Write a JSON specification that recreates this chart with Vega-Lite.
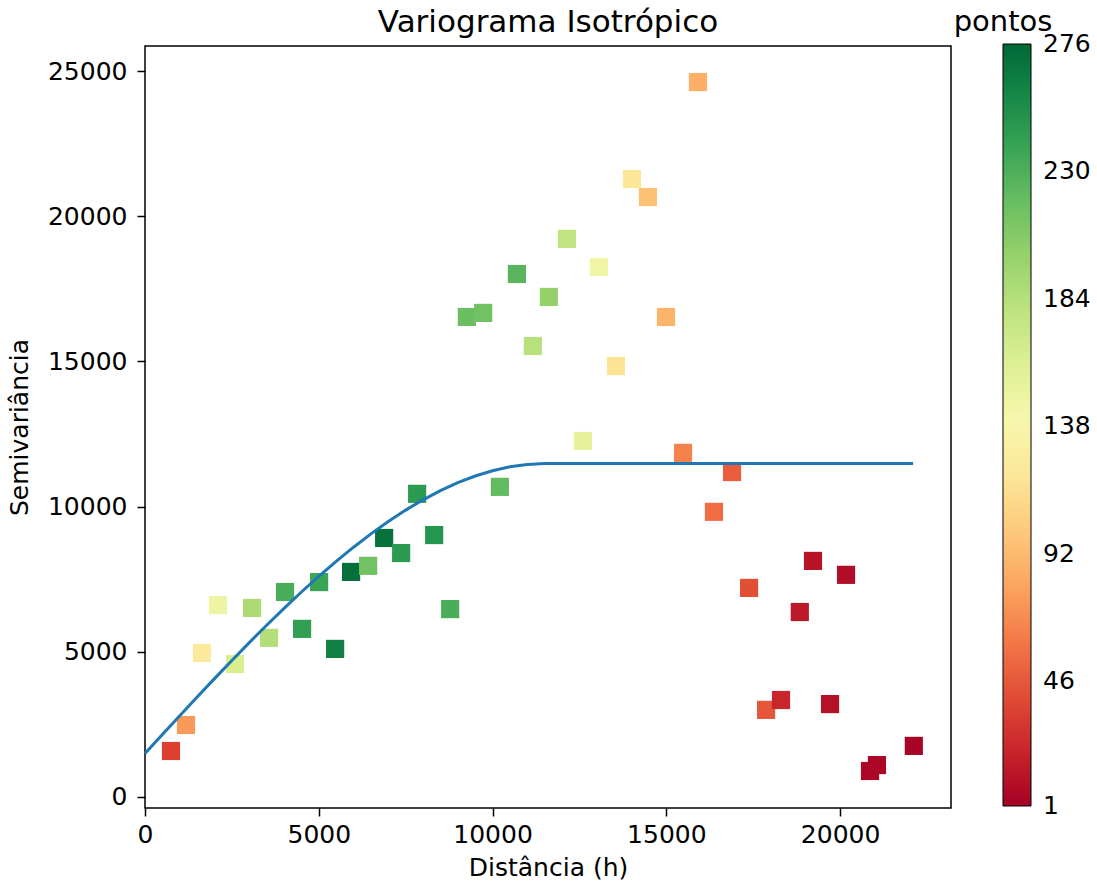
{
  "$schema": "https://vega.github.io/schema/vega-lite/v6.json",
  "autosize": {"type": "none"},
  "width": 806,
  "height": 762,
  "padding": {"left": 145, "top": 46, "right": 146, "bottom": 76},
  "background": "white",
  "title": {"text": "Variograma Isotrópico", "fontSize": 31, "font": "DejaVu Sans", "fontWeight": "normal", "color": "#000", "anchor": "middle", "offset": -31},
  "config": {
    "font": "DejaVu Sans",
    "view": {"stroke": "#000", "strokeWidth": 1.5},
    "axis": {"grid": false, "domain": false, "tickColor": "#000", "tickWidth": 1.5, "tickSize": 8, "labelFontSize": 25, "labelColor": "#000", "titleFontSize": 25, "titleFontWeight": "normal", "titleColor": "#000", "labelFlush": false}
  },
  "datasets": {
    "pts": [
      {"h": 748, "g": 1584, "n": 35},
      {"h": 1180, "g": 2480, "n": 75},
      {"h": 1640, "g": 4960, "n": 125},
      {"h": 2100, "g": 6610, "n": 148},
      {"h": 2590, "g": 4580, "n": 165},
      {"h": 3080, "g": 6510, "n": 190},
      {"h": 3570, "g": 5480, "n": 185},
      {"h": 4030, "g": 7060, "n": 232},
      {"h": 4520, "g": 5790, "n": 242},
      {"h": 5010, "g": 7400, "n": 238},
      {"h": 5470, "g": 5100, "n": 262},
      {"h": 5930, "g": 7750, "n": 272},
      {"h": 6420, "g": 7960, "n": 215},
      {"h": 6880, "g": 8920, "n": 270},
      {"h": 7370, "g": 8400, "n": 245},
      {"h": 7830, "g": 10440, "n": 245},
      {"h": 8320, "g": 9020, "n": 248},
      {"h": 8780, "g": 6470, "n": 232},
      {"h": 9260, "g": 16530, "n": 218},
      {"h": 9730, "g": 16670, "n": 215},
      {"h": 10210, "g": 10680, "n": 222},
      {"h": 10700, "g": 18010, "n": 225},
      {"h": 11160, "g": 15530, "n": 182},
      {"h": 11620, "g": 17220, "n": 200},
      {"h": 12140, "g": 19220, "n": 178},
      {"h": 12600, "g": 12260, "n": 155},
      {"h": 13060, "g": 18250, "n": 145},
      {"h": 13550, "g": 14840, "n": 118},
      {"h": 14010, "g": 21280, "n": 120},
      {"h": 14470, "g": 20660, "n": 95},
      {"h": 14990, "g": 16530, "n": 88},
      {"h": 15910, "g": 24620, "n": 85},
      {"h": 15480, "g": 11850, "n": 65},
      {"h": 16370, "g": 9820, "n": 55},
      {"h": 16890, "g": 11190, "n": 48},
      {"h": 17380, "g": 7200, "n": 42},
      {"h": 17870, "g": 3000, "n": 45},
      {"h": 18300, "g": 3340, "n": 22},
      {"h": 18840, "g": 6370, "n": 15},
      {"h": 19220, "g": 8130, "n": 12},
      {"h": 19710, "g": 3200, "n": 10},
      {"h": 20170, "g": 7650, "n": 8},
      {"h": 20860, "g": 895, "n": 5},
      {"h": 21060, "g": 1100, "n": 5},
      {"h": 22120, "g": 1760, "n": 3}
    ],
    "model": [
      {"h": 0, "g": 1500}, {"h": 500, "g": 2150}, {"h": 1000, "g": 2798}, {"h": 1500, "g": 3442},
      {"h": 2000, "g": 4077}, {"h": 2500, "g": 4703}, {"h": 3000, "g": 5317}, {"h": 3500, "g": 5915},
      {"h": 4000, "g": 6497}, {"h": 4500, "g": 7059}, {"h": 5000, "g": 7599}, {"h": 5500, "g": 8114},
      {"h": 6000, "g": 8602}, {"h": 6500, "g": 9060}, {"h": 7000, "g": 9487}, {"h": 7500, "g": 9879},
      {"h": 8000, "g": 10234}, {"h": 8500, "g": 10550}, {"h": 9000, "g": 10824}, {"h": 9500, "g": 11053},
      {"h": 10000, "g": 11236}, {"h": 10500, "g": 11370}, {"h": 11000, "g": 11452}, {"h": 11500, "g": 11480},
      {"h": 22100, "g": 11480}
    ]
  },
  "layer": [
    {
      "data": {"name": "pts"},
      "mark": {"type": "square", "filled": true, "opacity": 1, "size": 330},
      "encoding": {
        "x": {"field": "h", "type": "quantitative", "scale": {"domain": [0, 23190], "nice": false, "zero": false}, "axis": {"values": [0, 5000, 10000, 15000, 20000], "format": "d", "title": "Distância (h)", "labelPadding": 6, "titlePadding": 8}},
        "y": {"field": "g", "type": "quantitative", "scale": {"domain": [-379, 25861], "nice": false, "zero": false}, "axis": {"values": [0, 5000, 10000, 15000, 20000, 25000], "format": "d", "title": "Semivariância", "labelPadding": 10, "titlePadding": 15}},
        "color": {"field": "n", "type": "quantitative", "scale": {"scheme": "redyellowgreen", "domain": [0.98, 276.02]},
          "legend": {"title": "pontos", "orient": "none", "legendX": 809, "legendY": -38, "direction": "vertical", "gradientLength": 762, "gradientThickness": 28, "gradientStrokeColor": "#000", "gradientStrokeWidth": 1, "values": [1, 46, 92, 138, 184, 230, 276], "labelFontSize": 25, "labelColor": "#000", "labelOffset": 12, "titleFontSize": 29, "titleFontWeight": "normal", "titleColor": "#000", "titlePadding": 7, "titleAnchor": "start", "titleAlign": "center", "labelOverlap": false}}
      }
    },
    {
      "data": {"name": "model"},
      "mark": {"type": "line", "color": "#1f77b4", "strokeWidth": 3},
      "encoding": {
        "x": {"field": "h", "type": "quantitative"},
        "y": {"field": "g", "type": "quantitative"}
      }
    }
  ]
}
